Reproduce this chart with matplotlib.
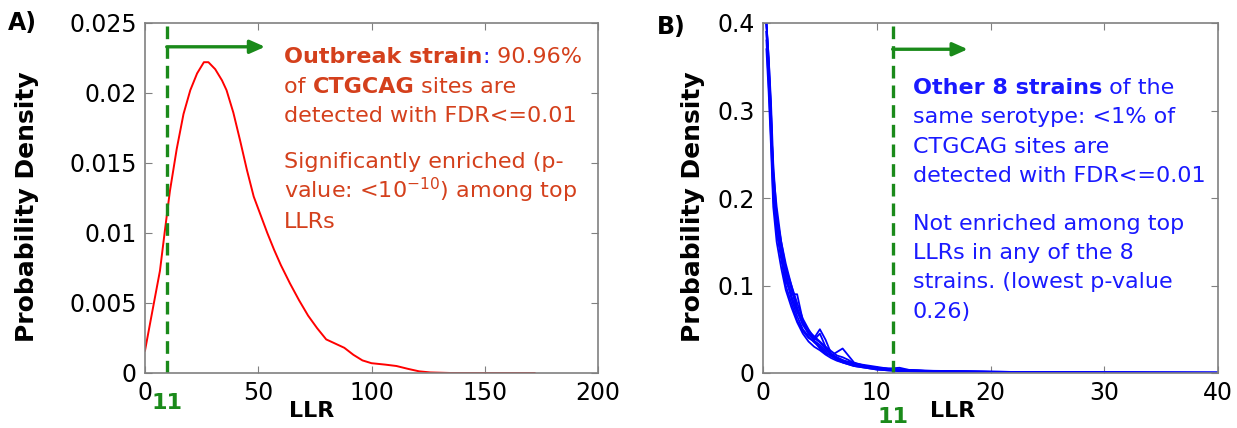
import matplotlib
matplotlib.use("Agg")
import matplotlib.pyplot as plt
from matplotlib.ticker import FuncFormatter
from matplotlib.text import Annotation

# Panel A: outbreak strain LLR density
llr_a = [0, 3, 6.6, 8.8, 11, 14, 17, 20, 23, 26, 28, 31, 34, 36, 39, 42, 45, 48, 51,
         54, 57, 60, 64, 68, 72, 76, 80, 84, 88, 92, 96, 100, 106, 111, 116, 121,
         126, 135, 172]
dens_a = [0.0016, 0.0042, 0.0073, 0.0102, 0.0130, 0.0160, 0.0185, 0.0202, 0.0214,
          0.0222, 0.0222, 0.0217, 0.0209, 0.0202, 0.0186, 0.0166, 0.0145, 0.0126,
          0.0113, 0.0100, 0.0088, 0.0077, 0.0064, 0.0052, 0.0041, 0.0032, 0.0024,
          0.0021, 0.0018, 0.0013, 0.0009, 0.0007, 0.0006, 0.0005, 0.0003, 0.00012,
          0.00004, 0.0, 0.0]

# Panel B: other 8 strains
llr_b = [0.3, 0.5, 0.7, 0.9, 1.2, 1.6, 2.0, 2.5, 3.0, 3.5, 4.0, 4.5, 5.0, 5.5, 6.0,
         6.5, 7.0, 7.5, 8.0, 9.0, 10, 11, 12, 13, 15, 18, 22, 26, 30, 34, 40]
strain_1 = [0.40, 0.36, 0.30, 0.22, 0.175, 0.14, 0.11, 0.085, 0.065, 0.050, 0.042, 0.035,
            0.030, 0.024, 0.019, 0.016, 0.013, 0.011, 0.009, 0.007, 0.005, 0.004, 0.003,
            0.0025, 0.002, 0.0015, 0.001, 0.0008, 0.0006, 0.0004, 0.0003]
strain_2 = [0.39, 0.34, 0.28, 0.21, 0.18, 0.15, 0.12, 0.095, 0.072, 0.055, 0.045, 0.040,
            0.050, 0.038, 0.022, 0.018, 0.015, 0.012, 0.010, 0.007, 0.006, 0.004, 0.004,
            0.003, 0.002, 0.0015, 0.001, 0.0007, 0.0005, 0.0004, 0.0003]
strain_3 = [0.38, 0.33, 0.27, 0.20, 0.16, 0.13, 0.10, 0.080, 0.060, 0.048, 0.040, 0.036,
            0.028, 0.022, 0.020, 0.024, 0.028, 0.020, 0.012, 0.008, 0.005, 0.004, 0.003,
            0.002, 0.0018, 0.0012, 0.0009, 0.0007, 0.0005, 0.0003, 0.0002]
strain_4 = [0.40, 0.35, 0.29, 0.23, 0.19, 0.15, 0.125, 0.10, 0.080, 0.062, 0.050, 0.040,
            0.035, 0.028, 0.022, 0.017, 0.014, 0.012, 0.010, 0.008, 0.006, 0.005, 0.004,
            0.0035, 0.0025, 0.002, 0.0012, 0.001, 0.0008, 0.0005, 0.0004]
strain_5 = [0.39, 0.34, 0.29, 0.22, 0.17, 0.135, 0.105, 0.090, 0.090, 0.060, 0.045, 0.038,
            0.045, 0.030, 0.020, 0.015, 0.012, 0.010, 0.008, 0.006, 0.004, 0.003, 0.002,
            0.002, 0.0015, 0.001, 0.0008, 0.0006, 0.0004, 0.0003, 0.0002]
strain_6 = [0.40, 0.36, 0.31, 0.24, 0.18, 0.145, 0.115, 0.088, 0.070, 0.056, 0.048, 0.042,
            0.036, 0.030, 0.025, 0.020, 0.018, 0.015, 0.011, 0.008, 0.006, 0.005, 0.006,
            0.003, 0.002, 0.0015, 0.001, 0.0008, 0.0006, 0.0005, 0.0003]
strain_7 = [0.37, 0.32, 0.26, 0.19, 0.15, 0.12, 0.095, 0.075, 0.058, 0.045, 0.036, 0.030,
            0.026, 0.021, 0.017, 0.014, 0.012, 0.010, 0.008, 0.006, 0.004, 0.003, 0.0025,
            0.002, 0.0015, 0.001, 0.0008, 0.0006, 0.0004, 0.0003, 0.0002]
strain_8 = [0.40, 0.35, 0.30, 0.22, 0.17, 0.14, 0.12, 0.100, 0.075, 0.058, 0.046, 0.037,
            0.032, 0.026, 0.021, 0.017, 0.014, 0.013, 0.011, 0.009, 0.007, 0.005, 0.004,
            0.003, 0.002, 0.002, 0.0012, 0.0009, 0.0007, 0.0005, 0.0004]
strains_b = [strain_1, strain_2, strain_3, strain_4, strain_5, strain_6, strain_7, strain_8]

# where the dashed cutoff line sits in each panel, and its label
cut_a = 9.6
cut_b = 11.4
cut_label = "11"

GREEN = "#1a8a1a"
ORANGE = "#d4401c"
BLUE = "#1a1aff"
GRAY = "#808080"

W, H = 1237, 428
fig = plt.figure(figsize=(W / 100, H / 100), dpi=100)


def px(x, y):
    return x / W, 1 - y / H


def style_axes(ax, xlim, ylim, xticks, yticks):
    ax.set_xlim(*xlim)
    ax.set_ylim(*ylim)
    ax.set_xticks(xticks)
    ax.set_yticks(yticks)
    fmt = FuncFormatter(lambda v, _: "%g" % v)
    ax.xaxis.set_major_formatter(fmt)
    ax.yaxis.set_major_formatter(fmt)
    ax.tick_params(direction="in", length=5, top=True, right=True, color=GRAY,
                   labelsize=17, pad=6)
    for s in ax.spines.values():
        s.set_color(GRAY)
        s.set_linewidth(1.2)


def rich_line(x, y, parts, size=16):
    """parts: list of (text, color, weight); x, y in pixels (baseline)"""
    last = None
    for text, color, weight in parts:
        if last is None:
            last = fig.text(*px(x, y), text, color=color, fontweight=weight,
                            fontsize=size, va="baseline", ha="left")
        else:
            last = fig.add_artist(Annotation(text, xy=(1, 0), xycoords=last,
                                             va="bottom", ha="left", color=color,
                                             fontweight=weight, fontsize=size))


def cutoff_marks(ax, xpos, arrow_end, arrow_y, label_y):
    ax.axvline(xpos, color=GREEN, lw=2.4, ls=(0, (3.8, 2.1)))
    ax.annotate("", xy=(arrow_end, arrow_y), xytext=(xpos, arrow_y),
                arrowprops=dict(arrowstyle="-|>,head_length=0.9,head_width=0.4",
                                color=GREEN, lw=2.4, shrinkA=0, shrinkB=0))
    ax.text(xpos, label_y, cut_label, transform=ax.get_xaxis_transform(),
            color=GREEN, fontsize=16, fontweight="bold", ha="center", va="center")


# ---------- A ----------
axA = fig.add_axes([145 / W, 55 / H, 453 / W, 350 / H])
axA.plot(llr_a, dens_a, color="red", lw=1.4)
style_axes(axA, (0, 200), (0, 0.025), range(0, 201, 50),
           [0, 0.005, 0.01, 0.015, 0.02, 0.025])
cutoff_marks(axA, cut_a, 53, 0.0233, -0.087)

# ---------- B ----------
axB = fig.add_axes([763 / W, 55 / H, 455 / W, 350 / H])
for ys in strains_b:
    axB.plot(llr_b, ys, color="blue", lw=1.3)
style_axes(axB, (0, 40), (0, 0.4), range(0, 41, 10), [0, 0.1, 0.2, 0.3, 0.4])
cutoff_marks(axB, cut_b, 18.0, 0.37, -0.127)

# axis labels
for x in (27, 693):
    fig.text(*px(x, 207), "Probability Density", rotation=90, fontsize=18,
             fontweight="bold", ha="center", va="center")
for x in (312, 953):
    fig.text(*px(x, 411), "LLR", fontsize=16, fontweight="bold",
             ha="center", va="center")
fig.text(*px(8, 23), "A)", fontsize=17, fontweight="bold", ha="left", va="center")
fig.text(*px(657, 27), "B)", fontsize=17, fontweight="bold", ha="left", va="center")

# annotation text, panel A
rich_line(284, 63, [("Outbreak strain", ORANGE, "bold"), (":", BLUE, "normal"),
                    (" 90.96%", ORANGE, "normal")])
rich_line(284, 93, [("of ", ORANGE, "normal"), ("CTGCAG", ORANGE, "bold"),
                    (" sites are", ORANGE, "normal")])
rich_line(284, 122, [("detected with FDR<=0.01", ORANGE, "normal")])
rich_line(284, 168, [("Significantly enriched (p-", ORANGE, "normal")])
rich_line(284, 198, [("value: <10$^{-10}$) among top", ORANGE, "normal")])
rich_line(284, 228, [("LLRs", ORANGE, "normal")])

# annotation text, panel B
rich_line(913, 94, [("Other 8 strains", BLUE, "bold"), (" of the", BLUE, "normal")])
rich_line(913, 123, [("same serotype: <1% of", BLUE, "normal")])
rich_line(913, 153, [("CTGCAG sites are", BLUE, "normal")])
rich_line(913, 182, [("detected with FDR<=0.01", BLUE, "normal")])
rich_line(913, 230, [("Not enriched among top", BLUE, "normal")])
rich_line(913, 259, [("LLRs in any of the 8", BLUE, "normal")])
rich_line(913, 288, [("strains. (lowest p-value", BLUE, "normal")])
rich_line(913, 318, [("0.26)", BLUE, "normal")])

fig.savefig("out.png", dpi=100)
